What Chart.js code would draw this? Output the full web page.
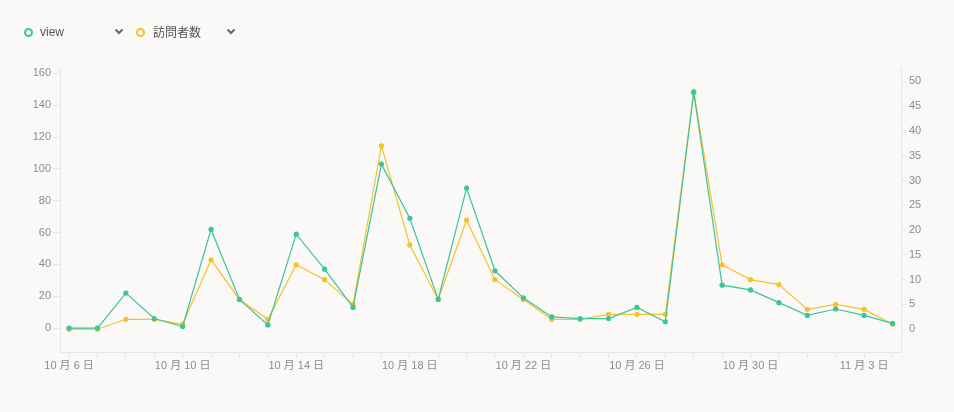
<!DOCTYPE html>
<html>
<head>
<meta charset="utf-8">
<script src="https://cdn.jsdelivr.net/npm/chart.js@4/dist/chart.umd.min.js"></script>
<style>
  html, body { margin: 0; padding: 0; background: #faf9f7; }
  #wrap { position: relative; width: 954px; height: 412px; }
  #chart { position: absolute; left: 0; top: 0; }
  .legend { position: absolute; top: 24px; left: 0; width: 400px; height: 16px; font-family: "Liberation Sans", "Noto Sans CJK JP", sans-serif; font-size: 12px; color: #555; }
  .dot { position: absolute; top: 4px; width: 5px; height: 5px; border-radius: 50%; border: 2px solid; }
  .label { position: absolute; top: 1px; white-space: nowrap; }
  .chev { position: absolute; top: 4px; }
</style>
</head>
<body>
<div id="wrap">
  <canvas id="chart" width="954" height="412"></canvas>
  <div class="legend">
    <span class="dot" style="left:24px;border-color:#3cc49a"></span>
    <span class="label" style="left:40px">view</span>
    <svg class="chev" style="left:114px" width="10" height="8"><polyline points="1.5,1.5 5,5 8.5,1.5" fill="none" stroke="#666" stroke-width="2"/></svg>
    <span class="dot" style="left:136px;border-color:#f4c22b"></span>
    <span class="label" style="left:153px;top:-1px;font-family:'Noto Sans CJK JP',sans-serif">訪問者数</span>
    <svg class="chev" style="left:226px" width="10" height="8"><polyline points="1.5,1.5 5,5 8.5,1.5" fill="none" stroke="#666" stroke-width="2"/></svg>
  </div>
</div>
<script>
// daily values, 10/6 .. 11/4
const dates = [
  '10 月 6 日', '10 月 7 日', '10 月 8 日', '10 月 9 日', '10 月 10 日', '10 月 11 日',
  '10 月 12 日', '10 月 13 日', '10 月 14 日', '10 月 15 日', '10 月 16 日', '10 月 17 日',
  '10 月 18 日', '10 月 19 日', '10 月 20 日', '10 月 21 日', '10 月 22 日', '10 月 23 日',
  '10 月 24 日', '10 月 25 日', '10 月 26 日', '10 月 27 日', '10 月 28 日', '10 月 29 日',
  '10 月 30 日', '10 月 31 日', '11 月 1 日', '11 月 2 日', '11 月 3 日', '11 月 4 日'
];
const views = [0, 0, 22, 6, 1, 62, 18, 2, 59, 37, 13, 103, 69, 18, 88, 36, 19, 7, 6, 6, 13, 4, 148, 27, 24, 16, 8, 12, 8, 3];
const visitors = [0, 0, 2, 2, 1, 14, 6, 2, 13, 10, 5, 37, 17, 6, 22, 10, 6, 2, 2, 3, 3, 3, 48, 13, 10, 9, 4, 5, 4, 1];
const leftTicks = [0, 20, 40, 60, 80, 100, 120, 140, 160];
const rightTicks = [0, 5, 10, 15, 20, 25, 30, 35, 40, 45, 50];

const GREEN = '#3cc49a';
const YELLOW = '#f4c22b';
const TICK_COLOR = '#8c8c8c';
const LINE_COLOR = '#e8e6e3';
const tickFont = { family: '"Liberation Sans", "Noto Sans CJK JP", sans-serif', size: 11 };

const toPoints = (arr) => arr.map((v, i) => ({ x: i, y: v }));

new Chart(document.getElementById('chart'), {
    type: 'line',
    data: {
        datasets: [
            {
                label: 'view',
                data: toPoints(views),
                yAxisID: 'yLeft',
                borderColor: GREEN,
                backgroundColor: GREEN,
                borderWidth: 1.2,
                pointRadius: 2.6,
                pointBorderWidth: 0,
                tension: 0,
            },
            {
                label: '訪問者数',
                data: toPoints(visitors),
                yAxisID: 'yRight',
                borderColor: YELLOW,
                backgroundColor: YELLOW,
                borderWidth: 1.2,
                pointRadius: 2.6,
                pointBorderWidth: 0,
                tension: 0,
            },
        ]
    },
    options: {
        responsive: false,
        animation: false,
        layout: { padding: { top: 67, left: 0, right: 0, bottom: 0 } },
        plugins: {
            legend: { display: false },
            tooltip: { enabled: false },
        },
        scales: {
            x: {
                type: 'linear',
                min: -0.32,
                max: 29.3,
                afterBuildTicks: (scale) => {
                    scale.ticks = dates.map((d, i) => ({ value: i }));
                },
                afterFit: (scale) => { scale.height = 60; },
                ticks: {
                    autoSkip: false,
                    maxRotation: 0,
                    padding: 1,
                    color: TICK_COLOR,
                    font: tickFont,
                    callback: (v) => (v % 4 === 0 ? dates[v] : ''),
                },
                grid: { drawOnChartArea: false, color: LINE_COLOR, tickLength: 6 },
                border: { color: LINE_COLOR },
            },
            yLeft: {
                type: 'linear',
                position: 'left',
                min: -15,
                max: 164,
                afterBuildTicks: (scale) => {
                    scale.ticks = leftTicks.map((v) => ({ value: v }));
                },
                afterFit: (scale) => { scale.width = 60; },
                ticks: { color: TICK_COLOR, font: tickFont, padding: 2 },
                grid: { drawOnChartArea: false, color: LINE_COLOR, tickLength: 7 },
                border: { color: LINE_COLOR },
            },
            yRight: {
                type: 'linear',
                position: 'right',
                min: -4.6,
                max: 52.9,
                afterBuildTicks: (scale) => {
                    scale.ticks = rightTicks.map((v) => ({ value: v }));
                },
                afterFit: (scale) => { scale.width = 53; },
                ticks: { color: TICK_COLOR, font: tickFont, padding: 3 },
                grid: { drawOnChartArea: false, color: LINE_COLOR, tickLength: 5 },
                border: { color: LINE_COLOR },
            },
        },
    },
});
</script>
</body>
</html>
